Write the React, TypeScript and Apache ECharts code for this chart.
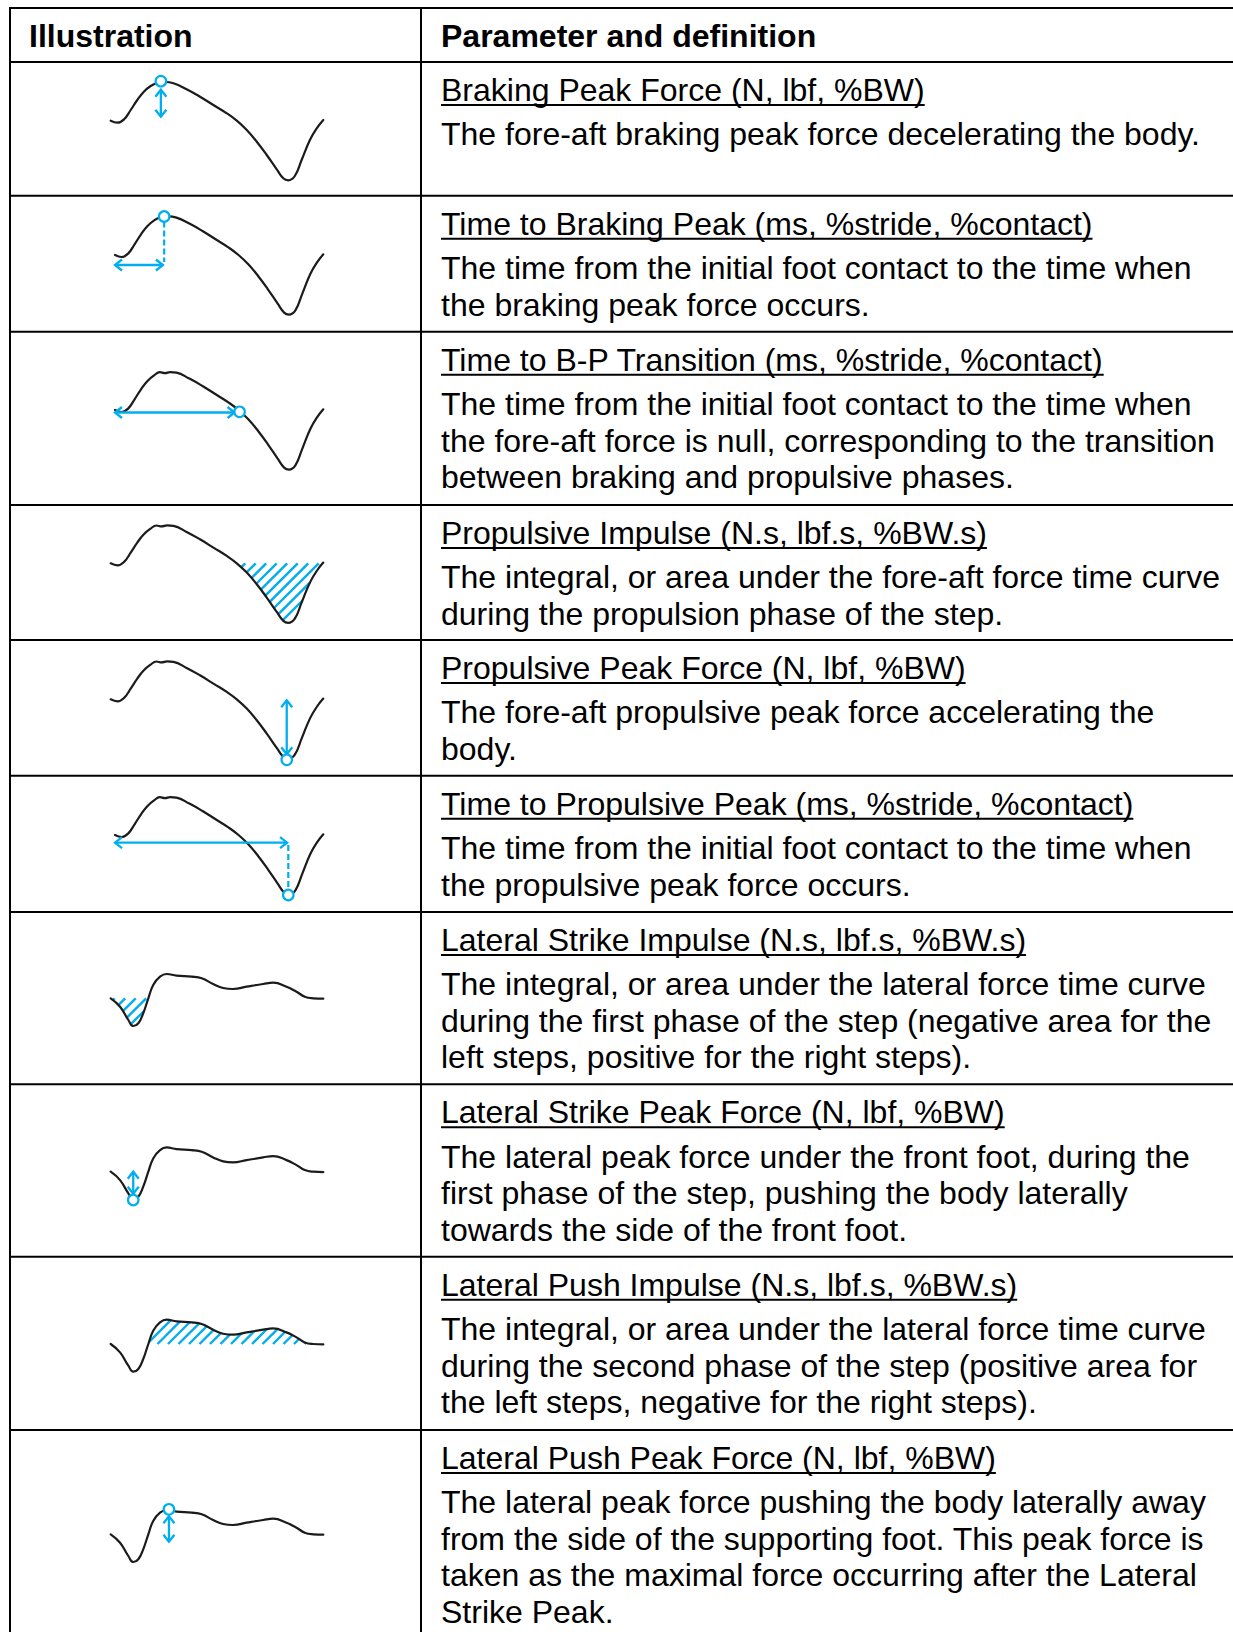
import React, { useEffect, useRef } from "react";
import * as echarts from "echarts";

const BLUE = "#00AEEF";
const INK = "#1b1b1b";
const FONT = '"Liberation Sans", Arial, Helvetica, sans-serif';

const headerLabels = ["Illustration", "Parameter and definition"];

const paramTitles = [
  "Braking Peak Force (N, lbf, %BW)",
  "Time to Braking Peak (ms, %stride, %contact)",
  "Time to B-P Transition (ms, %stride, %contact)",
  "Propulsive Impulse (N.s, lbf.s, %BW.s)",
  "Propulsive Peak Force (N, lbf, %BW)",
  "Time to Propulsive Peak (ms, %stride, %contact)",
  "Lateral Strike Impulse (N.s, lbf.s, %BW.s)",
  "Lateral Strike Peak Force (N, lbf, %BW)",
  "Lateral Push Impulse (N.s, lbf.s, %BW.s)",
  "Lateral Push Peak Force (N, lbf, %BW)",
];

const paramDefinitions = [
  ["The fore-aft braking peak force decelerating the body."],
  ["The time from the initial foot contact to the time when", "the braking peak force occurs."],
  [
    "The time from the initial foot contact to the time when",
    "the fore-aft force is null, corresponding to the transition",
    "between braking and propulsive phases.",
  ],
  ["The integral, or area under the fore-aft force time curve", "during the propulsion phase of the step."],
  ["The fore-aft propulsive peak force accelerating the", "body."],
  ["The time from the initial foot contact to the time when", "the propulsive peak force occurs."],
  [
    "The integral, or area under the lateral force time curve",
    "during the first phase of the step (negative area for the",
    "left steps, positive for the right steps).",
  ],
  [
    "The lateral peak force under the front foot, during the",
    "first phase of the step, pushing the body laterally",
    "towards the side of the front foot.",
  ],
  [
    "The integral, or area under the lateral force time curve",
    "during the second phase of the step (positive area for",
    "the left steps, negative for the right steps).",
  ],
  [
    "The lateral peak force pushing the body laterally away",
    "from the side of the supporting foot. This peak force is",
    "taken as the maximal force occurring after the Lateral",
    "Strike Peak.",
  ],
];

// Illustrative force-time curves: [% of contact time, force (arbitrary units)]
const foreAftCurveSmooth: number[][] = [
  [0, 0], [3.2, -2], [6.3, 1.4], [9.4, 10.7], [12.5, 20.7], [15.6, 29], [18.8, 34.7],
  [21.9, 37.7], [25.5, 38.7], [29.5, 37.4], [35.7, 31.4], [42, 24], [48.3, 15.7],
  [54.6, 7.4], [59.3, 0], [64, -9.3], [68.7, -21], [73.4, -34.3], [78.1, -48.6],
  [81.2, -57.6], [83.5, -59.6], [86.6, -55.3], [89.8, -39.3], [93.7, -19.3], [96.9, -7.7],
  [100, 0.7],
];
const foreAftCurveNotched: number[][] = [
  [0, 0], [3.2, -2], [6.3, 1.4], [9.4, 10.7], [12.5, 20.7], [15.6, 29], [18.8, 34.7],
  [21.5, 37.8], [24, 36.9], [26.5, 37.9], [29.5, 37.4], [35.7, 31.4], [42, 24], [48.3, 15.7],
  [54.6, 7.4], [59.3, 0], [64, -9.3], [68.7, -21], [73.4, -34.3], [78.1, -48.6],
  [81.2, -57.6], [83.5, -59.6], [86.6, -55.3], [89.8, -39.3], [93.7, -19.3], [96.9, -7.7],
  [100, 0.7],
];
const lateralCurve: number[][] = [
  [0, 0], [4.4, -8.4], [8.3, -21.7], [10.6, -27.7], [13, -25], [15.3, -15], [17.7, 0],
  [20, 13.3], [23.2, 21.6], [26.3, 24.3], [31, 22.6], [38.1, 21.6], [42.8, 20], [48.2, 14.3],
  [52.9, 10.3], [57.6, 9.3], [63.9, 11.6], [71.7, 14.3], [76.4, 15.6], [82.7, 11.6],
  [87.4, 6.6], [91.3, 1.6], [95.3, 0], [100, -0.4],
];

// which curve each row illustrates
const rowCurveKind = ["smooth", "smooth", "notched", "notched", "notched", "notched", "lat", "lat", "lat", "lat"];

// marked points: [row, t, force]
const peakMarkers: number[][] = [
  [0, 23.6, 39.5], [1, 23.6, 38.5], [2, 59.8, -1.8], [4, 82.8, -60.5], [5, 83.2, -60],
  [7, 10.6, -28.3], [9, 27.4, 25],
];
// arrows / guides: [row, t1, F1, t2, F2, dashed]
const arrowMarks: number[][] = [
  [0, 23.6, 31, 23.6, 4, 0],
  [1, 23.6, 33.5, 23.6, -7, 1],
  [1, 0, -10, 23, -10, 0],
  [2, 0, -2.5, 57.4, -2.5, 0],
  [4, 82.8, -55, 82.8, -1, 0],
  [5, 0, -7.7, 82.6, -7.7, 0],
  [5, 83.2, -10, 83.2, -55, 1],
  [7, 10.6, -22, 10.6, 0, 0],
  [9, 27.4, 18, 27.4, -7.4, 0],
];
// hatched impulse areas: [row, tStart, tEnd]
const hatchedSpans: number[][] = [
  [3, 58.6, 100],
  [6, 0, 17.7],
  [8, 17.7, 95.3],
];

// ---------- layout ----------
const PAGE_W = 1233;
const PAGE_H = 1632;
const TABLE_LEFT = 10;
const COL_SPLIT = 421;
const TABLE_TOP = 8;
const TEXT_X = 441;
const rowTops = [62, 195.7, 331.7, 505, 640, 775.7, 912, 1084.3, 1256.7, 1430];
const rowBaselines = [120.7, 255, 410, 563.3, 699.3, 835, 998.3, 1171.7, 1344, 1534.3];
const rowCurveLeft = [110.7, 115, 115, 110.7, 110.7, 115, 110.7, 110.7, 110.7, 110.7];
const CURVE_RIGHT = 323.3;

function curveFor(row: number) {
  const k = rowCurveKind[row];
  return k === "smooth" ? foreAftCurveSmooth : k === "notched" ? foreAftCurveNotched : lateralCurve;
}

function interp(curve: number[][], t: number) {
  for (let i = 0; i < curve.length - 1; i++) {
    const [t0, f0] = curve[i];
    const [t1, f1] = curve[i + 1];
    if (t >= t0 && t <= t1) return f0 + ((f1 - f0) * (t - t0)) / (t1 - t0 || 1);
  }
  return curve[curve.length - 1][1];
}

function hatchSegments(poly: number[][], step: number) {
  const sums = poly.map((p) => p[0] + p[1]);
  const cMin = Math.min(...sums);
  const cMax = Math.max(...sums);
  const segs: number[][] = [];
  for (let c = Math.ceil(cMin / step) * step; c <= cMax; c += step) {
    const xs: number[] = [];
    for (let k = 0; k < poly.length; k++) {
      const p = poly[k];
      const q = poly[(k + 1) % poly.length];
      const sp = p[0] + p[1] - c;
      const sq = q[0] + q[1] - c;
      if (sp < 0 !== sq < 0) {
        const r = sp / (sp - sq);
        xs.push(p[0] + (q[0] - p[0]) * r);
      }
    }
    xs.sort((a, b) => a - b);
    for (let k = 0; k + 1 < xs.length; k += 2) segs.push([xs[k], c - xs[k], xs[k + 1], c - xs[k + 1]]);
  }
  return segs;
}

function chevron(tip: number[], from: number[]) {
  const dx = tip[0] - from[0];
  const dy = tip[1] - from[1];
  const len = Math.hypot(dx, dy) || 1;
  const ux = dx / len;
  const uy = dy / len;
  const nx = -uy;
  const ny = ux;
  const L = 7;
  const W = 5.5;
  return {
    type: "polyline",
    shape: {
      points: [
        [tip[0] - ux * L + nx * W, tip[1] - uy * L + ny * W],
        [tip[0], tip[1]],
        [tip[0] - ux * L - nx * W, tip[1] - uy * L - ny * W],
      ],
    },
    style: { stroke: BLUE, lineWidth: 2.3, fill: "none", lineJoin: "miter" },
  };
}

function buildOption() {
  const grids: any[] = [];
  const xAxes: any[] = [];
  const yAxes: any[] = [];
  const series: any[] = [];

  for (let i = 0; i < rowTops.length; i++) {
    const lat = rowCurveKind[i] === "lat";
    const yMin = lat ? -40 : -70;
    const yMax = lat ? 35 : 45;
    grids.push({
      left: rowCurveLeft[i],
      top: rowBaselines[i] - yMax,
      width: CURVE_RIGHT - rowCurveLeft[i],
      height: yMax - yMin,
      containLabel: false,
    });
    xAxes.push({ type: "value", gridIndex: i, min: 0, max: 100, show: false });
    yAxes.push({ type: "value", gridIndex: i, min: yMin, max: yMax, show: false });
    series.push({
      type: "line",
      xAxisIndex: i,
      yAxisIndex: i,
      data: curveFor(i),
      smooth: 0.45,
      symbol: "none",
      clip: false,
      silent: true,
      z: 3,
      lineStyle: { color: INK, width: 2.2, cap: "round", join: "round" },
    });

    const rowArrows = arrowMarks.filter((a) => a[0] === i).map((a) => a.slice(1));
    if (rowArrows.length) {
      series.push({
        type: "custom",
        xAxisIndex: i,
        yAxisIndex: i,
        clip: false,
        silent: true,
        z: 4,
        data: rowArrows,
        renderItem: (params: any, api: any) => {
          const p1 = api.coord([api.value(0), api.value(1)]);
          const p2 = api.coord([api.value(2), api.value(3)]);
          const dashed = api.value(4) === 1;
          const children: any[] = [
            {
              type: "line",
              shape: { x1: p1[0], y1: p1[1], x2: p2[0], y2: p2[1] },
              style: { stroke: BLUE, lineWidth: dashed ? 2.2 : 2.3, lineDash: dashed ? [6, 3] : null },
            },
          ];
          if (!dashed) {
            children.push(chevron(p1, p2));
            children.push(chevron(p2, p1));
          }
          return { type: "group", children };
        },
      });
    }

    const rowPeaks = peakMarkers.filter((p) => p[0] === i).map((p) => [p[1], p[2]]);
    if (rowPeaks.length) {
      series.push({
        type: "scatter",
        xAxisIndex: i,
        yAxisIndex: i,
        data: rowPeaks,
        symbol: "circle",
        symbolSize: 10.5,
        clip: false,
        silent: true,
        z: 6,
        itemStyle: { color: "#ffffff", borderColor: BLUE, borderWidth: 2.2, opacity: 1 },
      });
    }
  }

  hatchedSpans.forEach(([row, t1, t2]) => {
    const curve = curveFor(row);
    series.push({
      type: "custom",
      xAxisIndex: row,
      yAxisIndex: row,
      clip: false,
      silent: true,
      z: 2,
      data: [[t1, t2]],
      renderItem: (params: any, api: any) => {
        const a = api.value(0);
        const b = api.value(1);
        const poly: number[][] = [];
        poly.push(api.coord([a, interp(curve, a)]));
        curve.forEach(([t, f]) => {
          if (t > a && t < b) poly.push(api.coord([t, f]));
        });
        poly.push(api.coord([b, interp(curve, b)]));
        poly.push(api.coord([b, 0]));
        poly.push(api.coord([a, 0]));
        const segs = hatchSegments(poly, 10.5);
        return {
          type: "group",
          children: segs.map((s) => ({
            type: "line",
            shape: { x1: s[0], y1: s[1], x2: s[2], y2: s[3] },
            style: { stroke: BLUE, lineWidth: 2.4 },
          })),
        };
      },
    });
  });

  // ---------- table & text (graphic) ----------
  const graphics: any[] = [];
  const ctx = document.createElement("canvas").getContext("2d")!;
  ctx.font = `32px ${FONT}`;

  [TABLE_TOP, ...rowTops].forEach((y) => {
    graphics.push({
      type: "line",
      shape: { x1: TABLE_LEFT - 1, y1: y, x2: PAGE_W, y2: y },
      style: { stroke: "#000", lineWidth: 2 },
    });
  });
  [TABLE_LEFT, COL_SPLIT].forEach((x) => {
    graphics.push({
      type: "line",
      shape: { x1: x, y1: TABLE_TOP - 1, x2: x, y2: PAGE_H },
      style: { stroke: "#000", lineWidth: 2 },
    });
  });

  const textStyle = (text: string, bold = false) => ({
    text,
    fill: "#000",
    fontSize: 32,
    fontFamily: FONT,
    fontWeight: bold ? "bold" : "normal",
    textAlign: "left",
    textVerticalAlign: "middle",
    align: "left",
    verticalAlign: "middle",
  });

  graphics.push({ type: "text", x: 29, y: 36, style: textStyle(headerLabels[0], true) });
  graphics.push({ type: "text", x: TEXT_X, y: 36, style: textStyle(headerLabels[1], true) });

  paramTitles.forEach((title, i) => {
    const ty = rowTops[i] + 28;
    graphics.push({ type: "text", x: TEXT_X, y: ty, style: textStyle(title) });
    const w = ctx.measureText(title).width;
    graphics.push({
      type: "line",
      shape: { x1: TEXT_X, y1: ty + 15, x2: TEXT_X + w, y2: ty + 15 },
      style: { stroke: "#000", lineWidth: 2 },
    });
    paramDefinitions[i].forEach((line, j) => {
      graphics.push({
        type: "text",
        x: TEXT_X,
        y: ty + 44.4 + j * 36.5,
        style: textStyle(line),
      });
    });
  });

  return {
    animation: false,
    backgroundColor: "#ffffff",
    grid: grids,
    xAxis: xAxes,
    yAxis: yAxes,
    series,
    graphic: { elements: graphics },
  };
}

export default function App() {
  const ref = useRef<HTMLDivElement>(null);
  useEffect(() => {
    if (!ref.current) return;
    const chart = echarts.init(ref.current, null, { renderer: "svg" });
    chart.setOption(buildOption() as any);
    return () => chart.dispose();
  }, []);
  return (
    <div
      ref={ref}
      style={{ position: "absolute", left: 0, top: 0, width: PAGE_W, height: PAGE_H, background: "#fff" }}
    />
  );
}
